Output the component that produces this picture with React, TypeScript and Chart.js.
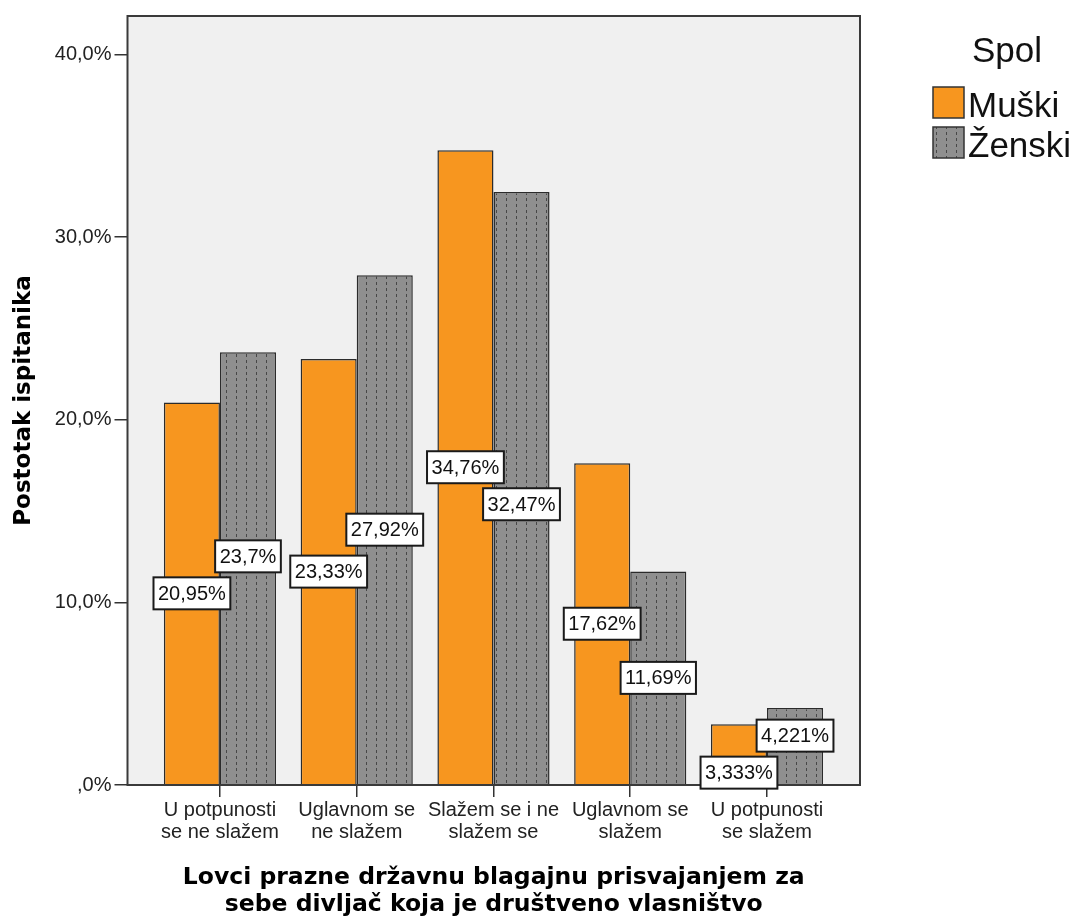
import { useEffect, useRef } from 'react';
import { Chart, registerables } from 'chart.js';

Chart.register(...registerables);

const categories: string[][] = [
  ['U potpunosti', 'se ne slažem'],
  ['Uglavnom se', 'ne slažem'],
  ['Slažem se i ne', 'slažem se'],
  ['Uglavnom se', 'slažem'],
  ['U potpunosti', 'se slažem'],
];
const muski: number[] = [20.95, 23.33, 34.76, 17.62, 3.333];
const zenski: number[] = [23.7, 27.92, 32.47, 11.69, 4.221];
const seriesNames: string[] = ['Muški', 'Ženski'];
const yTicks: number[] = [0, 10, 20, 30, 40];
const yTickLabels: string[] = [',0%', '10,0%', '20,0%', '30,0%', '40,0%'];
const legendTitle = 'Spol';
const xTitle: string[] = [
  'Lovci prazne državnu blagajnu prisvajanjem za',
  'sebe divljač koja je društveno vlasništvo',
];
const yTitle = 'Postotak ispitanika';

const ORANGE = '#f7961f';
const GRAY = '#8f8f8f';
const SANS = 'Arial, "Liberation Sans", sans-serif';
const BOLD = '"DejaVu Sans", Verdana, sans-serif';

const fmt = (v: number) => String(v).replace('.', ',') + '%';

function makePattern(): CanvasPattern | string {
  const c = document.createElement('canvas');
  c.width = 10;
  c.height = 6;
  const g = c.getContext('2d');
  if (!g) return GRAY;
  g.fillStyle = GRAY;
  g.fillRect(0, 0, 10, 6);
  g.fillStyle = '#474747';
  g.fillRect(6, 0, 1, 3);
  const p = g.createPattern(c, 'repeat');
  return p || GRAY;
}

export default function App() {
  const ref = useRef<HTMLCanvasElement | null>(null);

  useEffect(() => {
    document.body.style.margin = '0';
    const canvas = ref.current;
    if (!canvas) return;
    const pattern = makePattern();

    const drawLabel = (ctx: CanvasRenderingContext2D, text: string, x: number, y: number) => {
      ctx.font = `20px ${SANS}`;
      const tw = ctx.measureText(text).width;
      const w = tw + 9;
      const h = 32;
      ctx.fillStyle = '#ffffff';
      ctx.fillRect(x - w / 2, y - h / 2, w, h);
      ctx.strokeStyle = '#1a1a1a';
      ctx.lineWidth = 2;
      ctx.strokeRect(x - w / 2, y - h / 2, w, h);
      ctx.fillStyle = '#111111';
      ctx.textAlign = 'center';
      ctx.textBaseline = 'middle';
      ctx.fillText(text, x, y + 1);
    };

    const plotPlugin = {
      id: 'plotDecor',
      beforeDraw(chart: any) {
        const { ctx, chartArea: a } = chart;
        ctx.save();
        ctx.fillStyle = '#f0f0f0';
        ctx.fillRect(a.left, a.top, a.right - a.left, a.bottom - a.top);
        ctx.restore();
      },
      afterDatasetsDraw(chart: any) {
        const { ctx, chartArea: a } = chart;
        ctx.save();
        ctx.strokeStyle = '#3a3a3a';
        ctx.lineWidth = 2;
        ctx.strokeRect(a.left, a.top, a.right - a.left, a.bottom - a.top);
        const m0 = chart.getDatasetMeta(0);
        const m1 = chart.getDatasetMeta(1);
        const H = 32;
        const gap = 37;
        categories.forEach((_, i) => {
          const b0 = m0.data[i];
          const b1 = m1.data[i];
          let c0 = (b0.y + b0.base) / 2;
          let c1 = (b1.y + b1.base) / 2;
          if (Math.abs(c0 - c1) < gap) {
            const pushed = c1 < c0 ? c0 - gap : c0 + gap;
            if (pushed - H / 2 >= b1.y && pushed + H / 2 <= b1.base) {
              c1 = pushed;
            } else {
              const mid = (c0 + c1) / 2 + 4;
              const s = c1 < c0 ? -1 : 1;
              c1 = mid + (s * gap) / 2;
              c0 = mid - (s * gap) / 2;
            }
          }
          drawLabel(ctx, fmt(muski[i]), b0.x, c0);
          drawLabel(ctx, fmt(zenski[i]), b1.x, c1);
        });
        ctx.restore();
      },
      afterDraw(chart: any) {
        const { ctx } = chart;
        ctx.save();
        ctx.font = `35px ${SANS}`;
        ctx.fillStyle = '#111111';
        ctx.textAlign = 'left';
        ctx.textBaseline = 'alphabetic';
        ctx.fillText(legendTitle, 972, 62);
        const fills = [ORANGE, pattern];
        seriesNames.forEach((name, i) => {
          const y = 87 + i * 40;
          ctx.fillStyle = fills[i] as any;
          ctx.fillRect(933, y, 31, 31);
          ctx.strokeStyle = '#333333';
          ctx.lineWidth = 1.5;
          ctx.strokeRect(933, y, 31, 31);
          ctx.fillStyle = '#111111';
          ctx.fillText(name, 968, y + 30);
        });
        ctx.restore();
      },
    };

    const chart = new Chart(canvas, {
      type: 'bar',
      data: {
        datasets: [
          {
            label: seriesNames[0],
            data: muski.map((v, i) => ({ x: i, y: v })),
            backgroundColor: ORANGE,
            borderColor: '#2b2b2b',
            borderWidth: 1.5,
          },
          {
            label: seriesNames[1],
            data: zenski.map((v, i) => ({ x: i, y: v })),
            backgroundColor: pattern as any,
            borderColor: '#2b2b2b',
            borderWidth: 1.5,
          },
        ],
      },
      options: {
        responsive: false,
        animation: false,
        layout: { padding: { top: 16, right: 218, left: 0, bottom: 0 } },
        plugins: { legend: { display: false }, tooltip: { enabled: false } },
        datasets: { bar: { categoryPercentage: 0.82, barPercentage: 1 } },
        scales: {
          x: {
            type: 'linear',
            min: -0.676,
            max: 4.68,
            offset: false,
            grid: {
              offset: false,
              drawOnChartArea: false,
              color: '#333333',
              lineWidth: 1.5,
              tickLength: 12,
            },
            border: { display: false },
            afterBuildTicks: (s: any) => {
              s.ticks = categories.map((_, i) => ({ value: i }));
            },
            afterFit: (s: any) => {
              s.height = 133;
            },
            ticks: {
              autoSkip: false,
              maxRotation: 0,
              minRotation: 0,
              padding: 2,
              color: '#222222',
              font: { family: SANS, size: 20, lineHeight: 1.1 },
              callback: (v: any) => categories[v as number] ?? '',
            },
            title: {
              display: true,
              text: xTitle,
              color: '#000000',
              font: { family: BOLD, size: 23.5, weight: 'bold', lineHeight: 1.15 },
              padding: { top: 0, bottom: 0 },
            },
          },
          y: {
            min: 0,
            max: 42.11,
            afterBuildTicks: (s: any) => {
              s.ticks = yTicks.map((v) => ({ value: v }));
            },
            afterFit: (s: any) => {
              s.width = 127.5;
            },
            grid: {
              drawOnChartArea: false,
              color: '#333333',
              lineWidth: 1.5,
              tickLength: 13,
            },
            border: { display: false },
            ticks: {
              padding: 3,
              color: '#222222',
              font: { family: SANS, size: 20 },
              callback: (v: any) => {
                const k = yTicks.indexOf(v as number);
                return k >= 0 ? yTickLabels[k] : '';
              },
            },
            title: {
              display: true,
              text: yTitle,
              color: '#000000',
              font: { family: BOLD, size: 23, weight: 'bold', lineHeight: 1.2 },
              padding: { top: 10, bottom: 0 },
            },
          },
        },
      } as any,
      plugins: [plotPlugin],
    });

    return () => chart.destroy();
  }, []);

  return (
    <div style={{ width: 1078, height: 918 }}>
      <canvas ref={ref} width={1078} height={918} style={{ display: 'block', width: 1078, height: 918 }} />
    </div>
  );
}
